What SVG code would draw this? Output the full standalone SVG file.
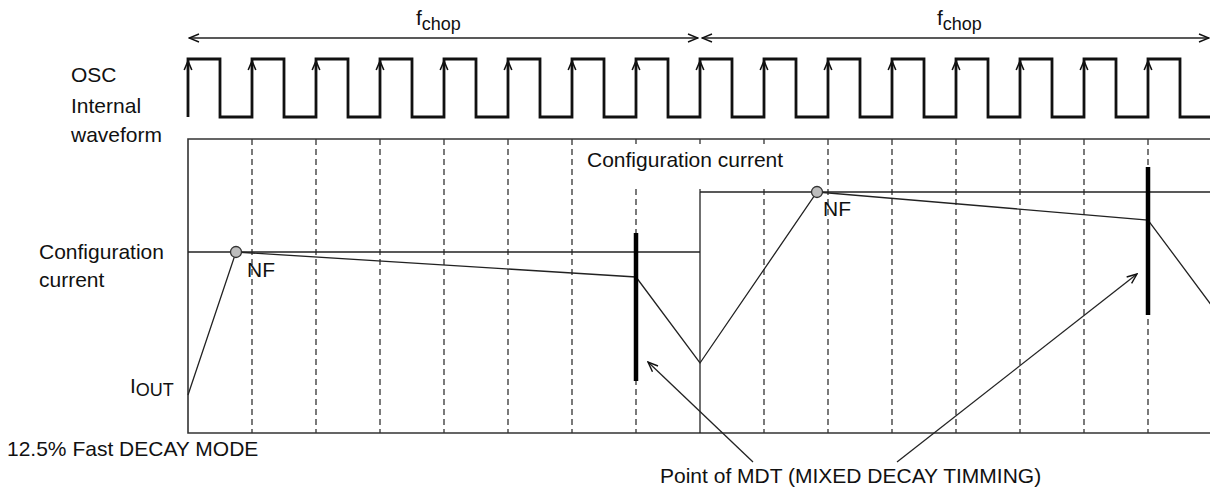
<svg xmlns="http://www.w3.org/2000/svg" xmlns:xlink="http://www.w3.org/1999/xlink" width="1210" height="492" viewBox="0 0 1210 492">
<style>
text{font-family:"Liberation Sans",Arial,sans-serif;font-size:21px;fill:#111}
.sub{font-size:18px}
.dash{stroke:#222;stroke-width:1.2;stroke-dasharray:6 4;fill:none}
.thin{stroke:#222;stroke-width:1.3;fill:none}
.frame{stroke:#333;stroke-width:1.6;fill:none}
.wave{stroke:#111;stroke-width:2.8;fill:none;stroke-linejoin:miter}
.bar{stroke:#000;stroke-width:4.5}
.nf{fill:#bdbdbd;stroke:#333;stroke-width:1.3}
</style>
<defs>
<marker id="oa" markerUnits="userSpaceOnUse" markerWidth="12" markerHeight="10" viewBox="0 0 12 10" refX="11" refY="5" orient="auto-start-reverse">
<path d="M1,1 L11,5 L1,9" fill="none" stroke="#111" stroke-width="1.4"/>
</marker>
<path id="ah" d="M-3.8,70 L0,61 L3.8,70" fill="none" stroke="#111" stroke-width="1.6"/>
</defs>

<g id="grid">
<path class="dash" d="M252,139V433M316,139V433M380,139V433M444,139V433M508,139V433M572,139V433M636,139V433M700,139V192M764,139V433M828,139V433M892,139V433M956,139V433M1020,139V433M1084,139V433M1148,139V433"/>
<path class="frame" d="M1212,139H188V433H1212"/>
<path class="thin" d="M700,192V433"/>
</g>

<g id="config-levels">
<path class="thin" d="M188,252H700"/>
<path class="thin" d="M700,192H1212"/>
</g>

<g id="config-label-top">
<rect x="578" y="144" width="242" height="43" fill="#fff"/>
<text x="587" y="167">Configuration current</text>
</g>

<g id="osc-waveform">
<path class="wave" d="M188,117V59H220V117H252V59H284V117H316V59H348V117H380V59H412V117H444V59H476V117H508V59H540V117H572V59H604V117H636V59H668V117H700V59H732V117H764V59H796V117H828V59H860V117H892V59H924V117H956V59H988V117H1020V59H1052V117H1084V59H1116V117H1148V59H1180V117H1212"/>
<use xlink:href="#ah" x="188"/><use xlink:href="#ah" x="252"/><use xlink:href="#ah" x="316"/><use xlink:href="#ah" x="380"/>
<use xlink:href="#ah" x="444"/><use xlink:href="#ah" x="508"/><use xlink:href="#ah" x="572"/><use xlink:href="#ah" x="636"/>
<use xlink:href="#ah" x="700"/><use xlink:href="#ah" x="764"/><use xlink:href="#ah" x="828"/><use xlink:href="#ah" x="892"/>
<use xlink:href="#ah" x="956"/><use xlink:href="#ah" x="1020"/><use xlink:href="#ah" x="1084"/><use xlink:href="#ah" x="1148"/>
</g>

<g id="labels">
<text x="71" y="82">OSC</text>
<text x="71" y="113">Internal</text>
<text x="71" y="142">waveform</text>
<text x="416" y="25">f<tspan class="sub" dy="5">chop</tspan></text>
<text x="937" y="25">f<tspan class="sub" dy="5">chop</tspan></text>
<text x="39" y="259">Configuration</text>
<text x="39" y="287">current</text>
<text x="130" y="393">I<tspan class="sub" dy="3">OUT</tspan></text>
<text x="7" y="456">12.5% Fast DECAY MODE</text>
<text x="660" y="483">Point of MDT (MIXED DECAY TIMMING)</text>
</g>

<g id="current">
<polyline class="thin" points="188,395 236,252 636,277 700,363 817,192 1148,220 1212,306"/>
</g>

<g id="nf1"><circle class="nf" cx="236" cy="252" r="5.5"/><text x="247" y="277">NF</text></g>
<g id="nf2"><circle class="nf" cx="817" cy="192" r="5.5"/><text x="823" y="216">NF</text></g>

<g id="mdt-bars">
<line class="bar" x1="636" y1="233" x2="636" y2="381"/>
<line class="bar" x1="1148" y1="167" x2="1148" y2="315"/>
</g>

<g id="connectors">
<line class="thin" x1="189" y1="38" x2="698" y2="38" marker-start="url(#oa)" marker-end="url(#oa)"/>
<line class="thin" x1="702" y1="38" x2="1209" y2="38" marker-start="url(#oa)" marker-end="url(#oa)"/>
<line class="thin" x1="753" y1="462" x2="648" y2="362" marker-end="url(#oa)"/>
<line class="thin" x1="897" y1="462" x2="1137" y2="274" marker-end="url(#oa)"/>
</g>
</svg>
